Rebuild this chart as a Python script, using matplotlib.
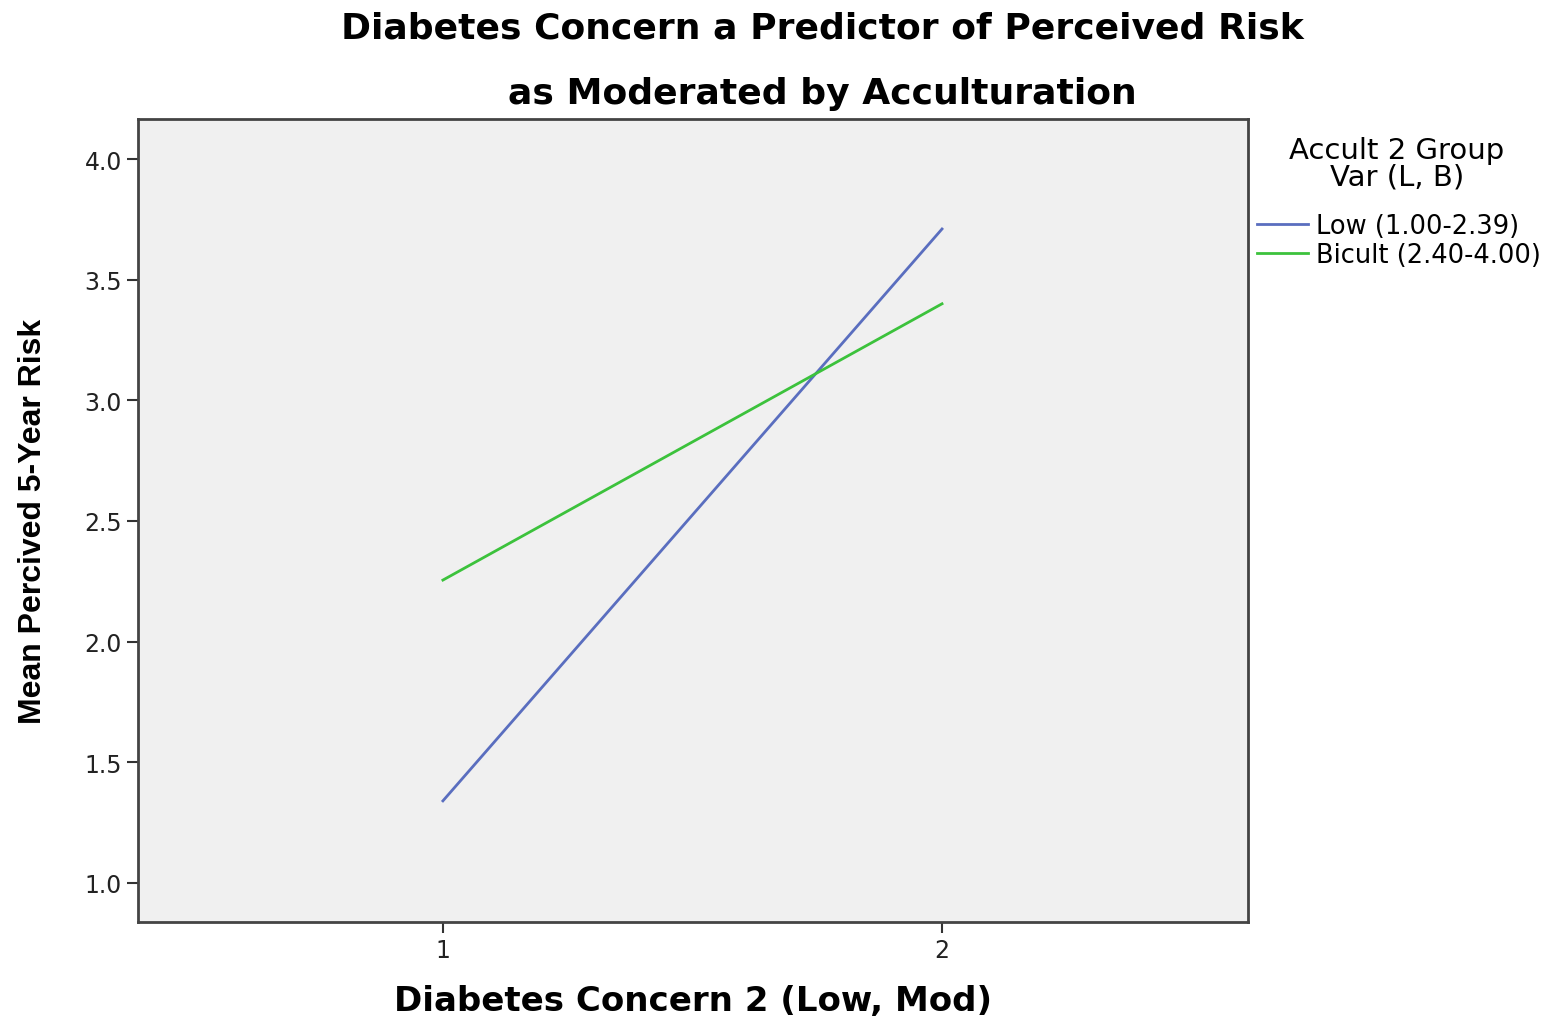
import matplotlib.pyplot as plt
from matplotlib import font_manager

# values
concern = [1, 2]
low_accult = [1.34, 3.71]
bicult = [2.255, 3.40]
series_names = ['Low (1.00-2.39)', 'Bicult (2.40-4.00)']
y_ticks = [1.0, 1.5, 2.0, 2.5, 3.0, 3.5, 4.0]

names = {f.name for f in font_manager.fontManager.ttflist}
narrow = 'Liberation Sans Narrow' if 'Liberation Sans Narrow' in names else 'Liberation Sans'

fig = plt.figure(figsize=(15.43, 10.2), dpi=100)
ax = fig.add_axes([0.0894, 0.0951, 0.7194, 0.7873])
ax.set_facecolor('#f0f0f0')

ax.plot(concern, low_accult, color='#5a6ebf', lw=2, label=series_names[0])
ax.plot(concern, bicult, color='#3cc23c', lw=2, label=series_names[1])

ax.set_xlim(0.389, 2.613)
ax.set_ylim(0.838, 4.166)
ax.set_xticks(concern)
ax.set_yticks(y_ticks)
ax.set_yticklabels([f'{v:.1f}' for v in y_ticks])
ax.tick_params(labelsize=17, length=8, width=1.5, color='#333333', labelcolor='#222222')
for s in ax.spines.values():
    s.set_linewidth(2)
    s.set_color('#444444')

ax.set_xlabel('Diabetes Concern 2 (Low, Mod)', fontsize=24.5, fontweight='bold',
              family='DejaVu Sans', labelpad=16)
ax.set_ylabel('Mean Percived 5-Year Risk', fontsize=23, fontweight='bold',
              family=narrow, labelpad=26)

fig.text(0.533, 0.972, 'Diabetes Concern a Predictor of Perceived Risk', ha='center', va='center',
         fontsize=26, fontweight='bold', family='DejaVu Sans')
fig.text(0.533, 0.908, 'as Moderated by Acculturation', ha='center', va='center',
         fontsize=26, fontweight='bold', family='DejaVu Sans')

# legend title drawn on its own so the gap below it can match
fig.text(0.9054, 0.839, 'Accult 2 Group\nVar (L, B)', ha='center', va='center',
         fontsize=21, linespacing=0.95)
leg = fig.legend(loc='upper left', bbox_to_anchor=(0.808, 0.800), frameon=False,
                 fontsize=18.5, handlelength=2.0, handletextpad=0.3,
                 labelspacing=0.1, borderaxespad=0)

fig.savefig('out.png', dpi=100)
